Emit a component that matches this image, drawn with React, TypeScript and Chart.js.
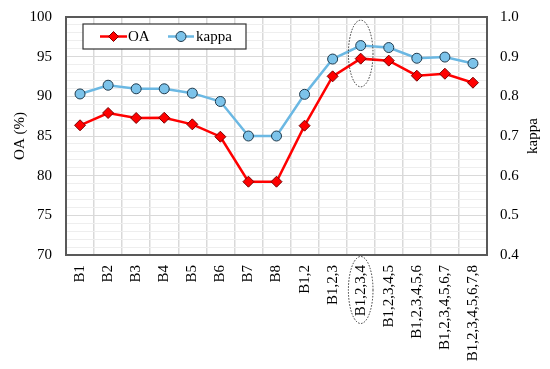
import React, { useEffect, useRef } from "react";
import { Chart, registerables } from "chart.js";

Chart.register(...registerables);

const categories = [
  "B1", "B2", "B3", "B4", "B5", "B6", "B7", "B8",
  "B1,2", "B1,2,3", "B1,2,3,4", "B1,2,3,4,5", "B1,2,3,4,5,6",
  "B1,2,3,4,5,6,7", "B1,2,3,4,5,6,7,8",
];
const oaValues = [86.35, 87.9, 87.27, 87.3, 86.47, 84.91, 79.24, 79.24, 86.3, 92.52, 94.75, 94.5, 92.6, 92.85, 91.72];
const kappaValues = [0.806, 0.828, 0.819, 0.819, 0.808, 0.787, 0.70, 0.70, 0.805, 0.894, 0.928, 0.923, 0.896, 0.899, 0.883];
const leftTicks = [70, 75, 80, 85, 90, 95, 100];
const rightTicks = [0.4, 0.5, 0.6, 0.7, 0.8, 0.9, 1.0];
const highlightIndex = 10;

const FONT = "'Liberation Serif', 'Times New Roman', serif";
const RED = "#ff0000";
const RED_EDGE = "#7a0000";
const BLUE = "#6bb8e3";
const BLUE_FILL = "#7cc3ea";

export default function App() {
  const ref = useRef<HTMLCanvasElement | null>(null);

  useEffect(() => {
    document.body.style.margin = "0";
    const canvas = ref.current;
    if (!canvas) return;

    const decor = {
      id: "decor",
      afterDraw(chart: any) {
        const ctx = chart.ctx;
        const a = chart.chartArea;
        const xs = chart.scales.x;
        const ys = chart.scales.y;
        ctx.save();
        // plot border
        ctx.strokeStyle = "#595959";
        ctx.lineWidth = 2;
        ctx.strokeRect(a.left, a.top, a.right - a.left, a.bottom - a.top);

        // legend box
        const lx = a.left + 17, ly = a.top + 7, lw = 163, lh = 25;
        ctx.fillStyle = "#ffffff";
        ctx.fillRect(lx, ly, lw, lh);
        ctx.strokeStyle = "#333333";
        ctx.lineWidth = 1.2;
        ctx.strokeRect(lx, ly, lw, lh);
        const cy = ly + lh / 2;
        // OA item
        ctx.strokeStyle = RED;
        ctx.lineWidth = 2.5;
        ctx.beginPath();
        ctx.moveTo(lx + 17, cy);
        ctx.lineTo(lx + 44, cy);
        ctx.stroke();
        ctx.fillStyle = RED;
        ctx.strokeStyle = RED_EDGE;
        ctx.lineWidth = 1;
        ctx.beginPath();
        ctx.moveTo(lx + 30.5, cy - 5);
        ctx.lineTo(lx + 35.5, cy);
        ctx.lineTo(lx + 30.5, cy + 5);
        ctx.lineTo(lx + 25.5, cy);
        ctx.closePath();
        ctx.fill();
        ctx.stroke();
        ctx.fillStyle = "#000";
        ctx.font = "15px " + FONT;
        ctx.textBaseline = "middle";
        ctx.textAlign = "left";
        ctx.fillText("OA", lx + 45, cy + 1);
        // kappa item
        ctx.strokeStyle = BLUE;
        ctx.lineWidth = 2.5;
        ctx.beginPath();
        ctx.moveTo(lx + 85, cy);
        ctx.lineTo(lx + 111, cy);
        ctx.stroke();
        ctx.fillStyle = BLUE_FILL;
        ctx.strokeStyle = "#1f3a4d";
        ctx.lineWidth = 1;
        ctx.beginPath();
        ctx.arc(lx + 98, cy, 5, 0, Math.PI * 2);
        ctx.fill();
        ctx.stroke();
        ctx.fillStyle = "#000";
        ctx.fillText("kappa", lx + 113, cy + 1);

        // right axis title, reading bottom to top
        ctx.save();
        ctx.translate(chart.width - 17, (a.top + a.bottom) / 2);
        ctx.rotate(-Math.PI / 2);
        ctx.textAlign = "center";
        ctx.textBaseline = "middle";
        ctx.font = "15px " + FONT;
        ctx.fillStyle = "#000";
        ctx.fillText("kappa", 0, 0);
        ctx.restore();

        // dotted ellipses
        const hx = xs.getPixelForValue(highlightIndex);
        const yTop = ys.getPixelForValue(99.6);
        const yBot = ys.getPixelForValue(91.2);
        ctx.strokeStyle = "#333";
        ctx.lineWidth = 1;
        ctx.setLineDash([1.5, 1.5]);
        ctx.beginPath();
        ctx.ellipse(hx, (yTop + yBot) / 2, 12.3, (yBot - yTop) / 2, 0, 0, Math.PI * 2);
        ctx.stroke();
        ctx.beginPath();
        ctx.ellipse(hx, a.bottom + 35, 12.3, 33.5, 0, 0, Math.PI * 2);
        ctx.stroke();
        ctx.restore();
      },
    };

    const chart = new Chart(canvas, {
      type: "line",
      data: {
        labels: categories,
        datasets: [
          {
            label: "OA",
            data: oaValues,
            yAxisID: "y",
            borderColor: RED,
            backgroundColor: RED,
            borderWidth: 2.5,
            pointStyle: "rectRot",
            pointRadius: 5.5,
            pointBackgroundColor: RED,
            pointBorderColor: RED_EDGE,
            pointBorderWidth: 1,
            tension: 0,
          },
          {
            label: "kappa",
            data: kappaValues,
            yAxisID: "y1",
            borderColor: BLUE,
            backgroundColor: BLUE_FILL,
            borderWidth: 2.5,
            pointStyle: "circle",
            pointRadius: 5,
            pointBackgroundColor: BLUE_FILL,
            pointBorderColor: "#1f3a4d",
            pointBorderWidth: 1,
            tension: 0,
          },
        ],
      },
      options: {
        animation: false,
        responsive: false,
        layout: { padding: { top: 17, left: 0, right: 0, bottom: 0 } },
        plugins: { legend: { display: false }, tooltip: { enabled: false } },
        scales: {
          x: {
            offset: true,
            grid: { offset: true, color: "#d9d9d9", lineWidth: 1.5, drawTicks: false },
            border: { display: false },
            ticks: {
              color: "#000",
              font: { family: FONT, size: 15 },
              maxRotation: 90,
              minRotation: 90,
              autoSkip: false,
              padding: 10,
            },
            afterFit: (s: any) => { s.height = 114; s.paddingLeft = 0; s.paddingRight = 0; },
          },
          y: {
            position: "left",
            min: 70,
            max: 100,
            ticks: {
              stepSize: 1,
              autoSkip: false,
              color: "#000",
              font: { family: FONT, size: 15 },
              padding: 14,
              callback: (v: any) => (leftTicks.includes(Number(v)) ? String(v) : ""),
            },
            grid: {
              drawTicks: false,
              color: (c: any) => (c.tick && c.tick.value % 5 === 0 ? "#d9d9d9" : "#eeeeee"),
              lineWidth: 1,
            },
            border: { display: false },
            title: {
              display: true,
              text: "OA (%)",
              color: "#000",
              font: { family: FONT, size: 15 },
              padding: { top: 11, bottom: 0 },
            },
            afterFit: (s: any) => { s.width = 66; s.paddingTop = 0; s.paddingBottom = 0; },
          },
          y1: {
            position: "right",
            min: 0.4,
            max: 1.0,
            ticks: {
              stepSize: 0.1,
              color: "#000",
              font: { family: FONT, size: 15 },
              padding: 13,
              callback: (v: any) => {
                const n = Math.round(Number(v) * 10) / 10;
                return rightTicks.includes(n) ? n.toFixed(1) : "";
              },
            },
            grid: { display: false, drawTicks: false },
            border: { display: false },
            afterFit: (s: any) => { s.width = 63; s.paddingTop = 0; s.paddingBottom = 0; },
          },
        },
      },
      plugins: [decor],
    });
    return () => chart.destroy();
  }, []);

  return <canvas ref={ref} width={550} height={369} style={{ display: "block" }} />;
}
